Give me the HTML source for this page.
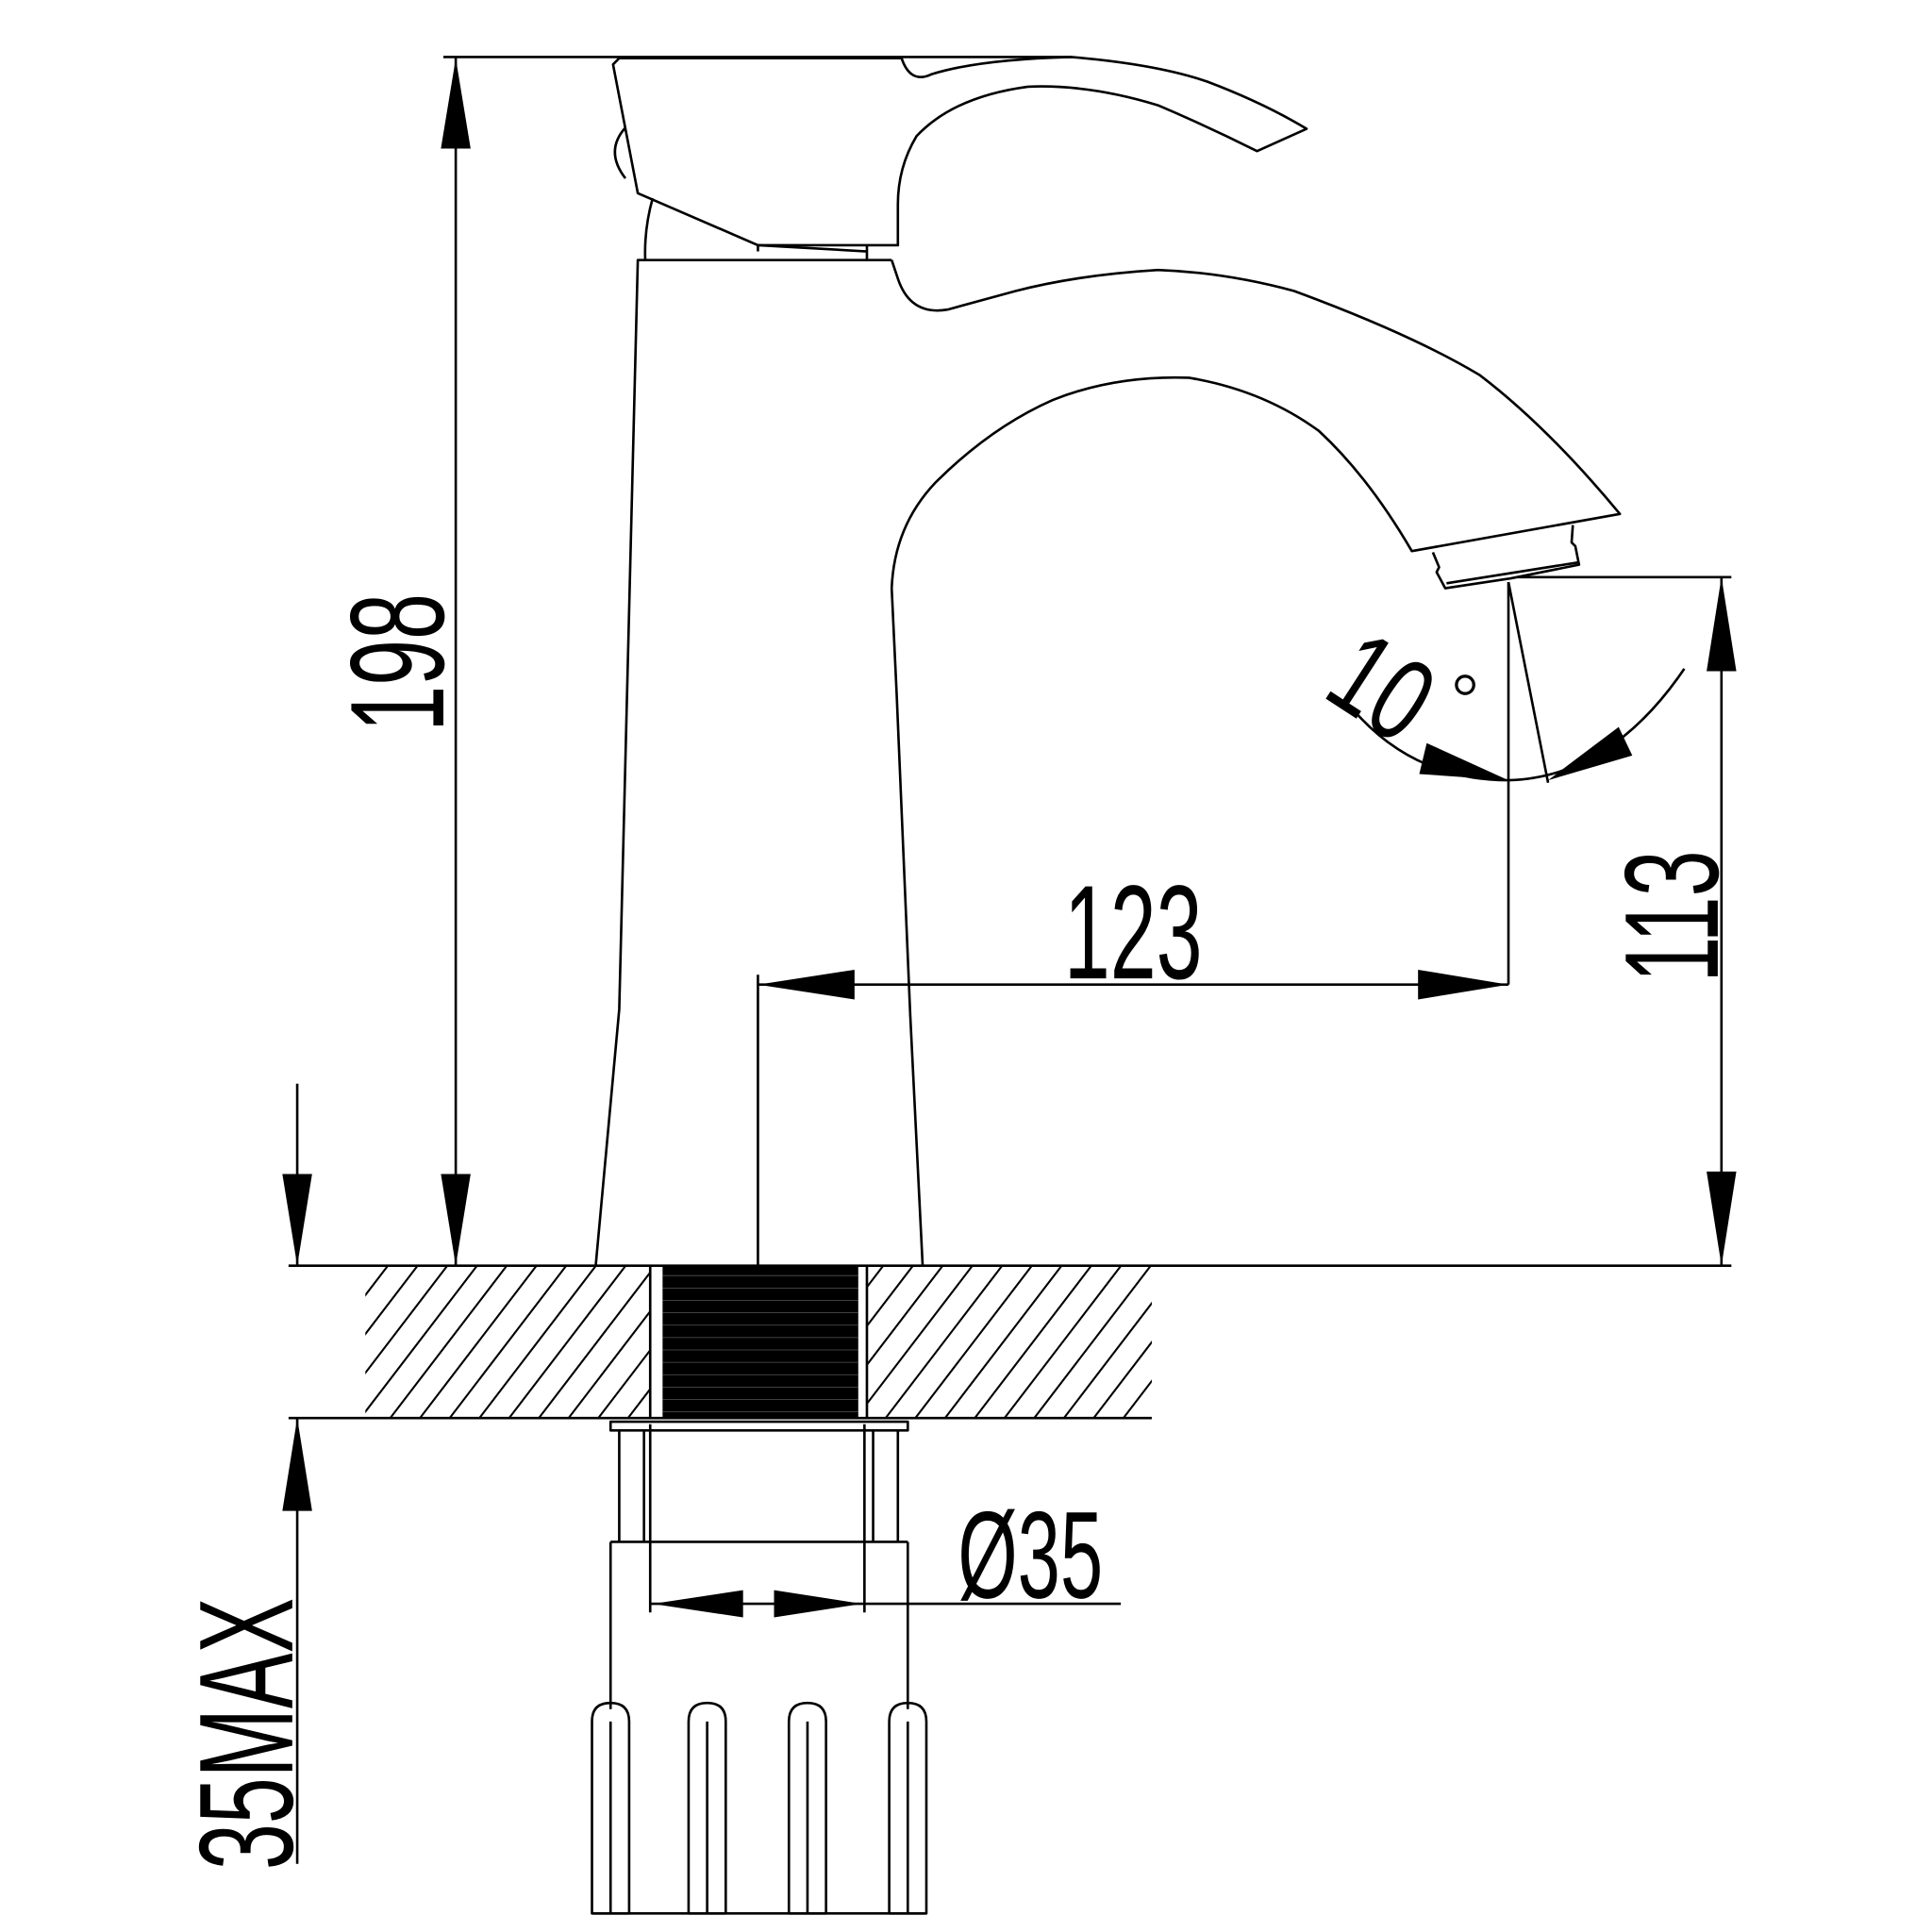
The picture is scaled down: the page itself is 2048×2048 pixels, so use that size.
<!DOCTYPE html>
<html><head><meta charset="utf-8"><style>
html,body{margin:0;padding:0;background:#fff;}
svg{display:block;}
text{font-family:"Liberation Sans",sans-serif;fill:#000;}
</style></head><body>
<svg width="2048" height="2048" viewBox="0 0 1560 1560" xmlns="http://www.w3.org/2000/svg">
<defs>
<clipPath id="hl"><rect x="295" y="1022" width="230" height="123"/></clipPath>
<clipPath id="hr"><rect x="700" y="1022" width="230" height="123"/></clipPath>
</defs>
<g fill="none" stroke="#000" stroke-width="2" stroke-linejoin="round">
<line x1="358" y1="46" x2="865" y2="46"/>
<line x1="368" y1="46" x2="368" y2="1022"/>
<line x1="233" y1="1022" x2="1398" y2="1022"/>
<line x1="233" y1="1145" x2="930" y2="1145"/>
<line x1="525" y1="1022" x2="525" y2="1145"/>
<line x1="700" y1="1022" x2="700" y2="1145"/>
<g clip-path="url(#hl)" stroke-width="1.6">
<path d="M200 1170 L330 1000 M224 1170 L354 1000 M248 1170 L378 1000 M272 1170 L402 1000 M296 1170 L426 1000 M320 1170 L450 1000 M344 1170 L474 1000 M368 1170 L498 1000 M392 1170 L522 1000 M416 1170 L546 1000 M440 1170 L570 1000 M464 1170 L594 1000 M488 1170 L618 1000 M512 1170 L642 1000"/>
</g>
<g clip-path="url(#hr)" stroke-width="1.6">
<path d="M600 1170 L730 1000 M624 1170 L754 1000 M648 1170 L778 1000 M672 1170 L802 1000 M696 1170 L826 1000 M720 1170 L850 1000 M744 1170 L874 1000 M768 1170 L898 1000 M792 1170 L922 1000 M816 1170 L946 1000 M840 1170 L970 1000 M864 1170 L994 1000 M888 1170 L1018 1000 M912 1170 L1042 1000"/>
</g>
<path d="M481 1022 L500 815 L515 210 L720 210"/>
<path d="M745 1022 L735 820 L724 560 L720 475 Q722 425 755 390 Q800 345 850 323 Q900 303 960 305 Q1020 315 1065 348 Q1105 385 1140 445 L1308 415 Q1250 345 1195 303 Q1140 270 1045 235 Q990 220 935 218 Q870 222 820 235 L765 250 Q735 255 725 225 L720 210"/>
<path d="M1157 446 L1162 458 L1160 462 L1167 475 L1220 467 L1275 456 L1272 441 L1269 438 L1270 424"/>
<line x1="1168" y1="471" x2="1275" y2="454"/>
<path d="M495 52 L500 47 L728 47 Q735 68 752 60 Q790 48 865 46 Q935 52 975 66 Q1020 83 1055 104 L1015 122 Q975 102 935 85 Q880 68 830 70 Q770 78 740 110 Q725 135 725 165 L725 198 L612 198 L515 156 Z"/>
<path d="M505 103 Q488 122 505 144"/>
<path d="M527 160 Q520 185 521 210"/>
<path d="M612 198 L700 203 M700 198 L700 210 M612 198 L612 203"/>
<line x1="1218" y1="470" x2="1218" y2="795"/>
<line x1="1218" y1="470" x2="1250" y2="632"/>
<path d="M1090 570 Q1140 630 1218 630 Q1300 628 1360 540"/>
<circle cx="1183" cy="553" r="7" stroke-width="2.5"/>
<line x1="612" y1="787" x2="612" y2="1022"/>
<line x1="612" y1="795" x2="1218" y2="795"/>
<line x1="1225" y1="466" x2="1398" y2="466"/>
<line x1="1390" y1="466" x2="1390" y2="1022"/>
<line x1="240" y1="875" x2="240" y2="1022"/>
<line x1="240" y1="1145" x2="240" y2="1505"/>
<rect x="493" y="1148" width="240" height="7"/>
<line x1="500" y1="1155" x2="500" y2="1245"/>
<line x1="520" y1="1155" x2="520" y2="1245"/>
<line x1="705" y1="1155" x2="705" y2="1245"/>
<line x1="725" y1="1155" x2="725" y2="1245"/>
<line x1="493" y1="1245" x2="733" y2="1245"/>
<line x1="493" y1="1245" x2="493" y2="1380"/>
<line x1="733" y1="1245" x2="733" y2="1380"/>
<line x1="525" y1="1150" x2="525" y2="1302"/>
<line x1="698" y1="1150" x2="698" y2="1302"/>
<line x1="525" y1="1295" x2="905" y2="1295"/>
<path d="M478 1545 L478 1390 Q478 1375 493 1375 Q508 1375 508 1390 L508 1545 Z"/>
<path d="M556 1545 L556 1390 Q556 1375 571 1375 Q586 1375 586 1390 L586 1545 Z"/>
<path d="M637 1545 L637 1390 Q637 1375 652 1375 Q667 1375 667 1390 L667 1545 Z"/>
<path d="M718 1545 L718 1390 Q718 1375 733 1375 Q748 1375 748 1390 L748 1545 Z"/>
<line x1="493" y1="1390" x2="493" y2="1545"/>
<line x1="571" y1="1390" x2="571" y2="1545"/>
<line x1="652" y1="1390" x2="652" y2="1545"/>
<line x1="733" y1="1390" x2="733" y2="1545"/>
<line x1="478" y1="1545" x2="748" y2="1545"/>
</g>
<rect x="535" y="1022" width="158" height="123" fill="#000"/>
<g stroke="#555" stroke-width="0.6">
<path d="M535 1030 H693 M535 1040 H693 M535 1050 H693 M535 1060 H693 M535 1070 H693 M535 1080 H693 M535 1090 H693 M535 1100 H693 M535 1110 H693 M535 1120 H693 M535 1130 H693 M535 1140 H693"/>
</g>
<g fill="#000">
<polygon points="368,47 356,120 380,120"/>
<polygon points="368,1022 356,948 380,948"/>
<polygon points="1390,466 1378,542 1402,542"/>
<polygon points="1390,1022 1378,946 1402,946"/>
<polygon points="612,795 690,783 690,807"/>
<polygon points="1218,795 1145,783 1145,807"/>
<polygon points="240,1022 228,948 252,948"/>
<polygon points="240,1145 228,1220 252,1220"/>
<polygon points="527,1295 600,1284 600,1306"/>
<polygon points="696,1295 625,1284 625,1306"/>
<polygon points="1218,630 1152,600 1146,625"/>
<polygon points="1250,630 1307,587 1318,610"/>
</g>
<text transform="translate(358,535) rotate(-90) scale(0.62,1)" font-size="108" text-anchor="middle">198</text>
<text transform="translate(915,790) scale(0.62,1)" font-size="108" text-anchor="middle">123</text>
<text transform="translate(1387,740) rotate(-90) scale(0.62,1)" font-size="108" text-anchor="middle">113</text>
<text transform="translate(236,1400) rotate(-90) scale(0.62,1)" font-size="108" text-anchor="middle">35MAX</text>
<text transform="translate(832,1290) scale(0.62,1)" font-size="100" text-anchor="middle">Ø35</text>
<text transform="translate(1098,582) rotate(33) scale(0.72,1)" font-size="95" text-anchor="middle">10</text>
</svg>
</body></html>
